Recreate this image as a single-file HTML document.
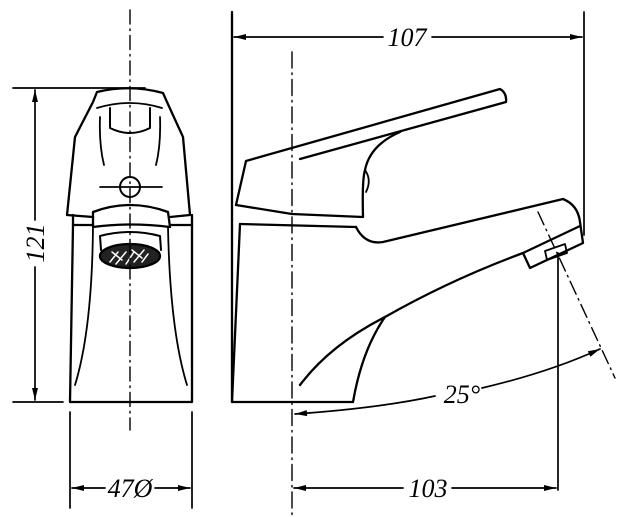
<!DOCTYPE html>
<html><head><meta charset="utf-8"><style>
html,body{margin:0;padding:0;background:#fff;}
svg{display:block;}
text{font-family:"Liberation Serif",serif;font-style:italic;font-size:26px;fill:#000;}
</style></head><body>
<svg width="629" height="517" viewBox="0 0 629 517" xmlns="http://www.w3.org/2000/svg">
<defs>
<marker id="a" viewBox="0 0 12 6" refX="12" refY="3" markerWidth="13" markerHeight="6" orient="auto-start-reverse" markerUnits="userSpaceOnUse"><path d="M0,0 L12,3 L0,6 Z" fill="#000"/></marker>
</defs>
<g fill="none" stroke="#000" stroke-width="2.3" stroke-linejoin="round" stroke-linecap="round">
<!-- LEFT VIEW -->
<line x1="13" y1="88" x2="145" y2="88" stroke-width="1.7"/>
<line x1="13" y1="402" x2="63" y2="402" stroke-width="1.7"/>
<line x1="35" y1="90" x2="35" y2="220" stroke-width="1.7" marker-start="url(#a)"/>
<line x1="35" y1="267" x2="35" y2="400" stroke-width="1.7" marker-end="url(#a)"/>
<!-- handle -->
<path d="M67,215 L75,137 L93,102 L97,92 Q130,84 163,93 L167,102 L183,137 L190,215 L170,217 M93,217 L67,215"/>
<path d="M97,108 Q130,98 162,108" stroke-width="1.8"/>
<path d="M100,117 Q99,145 104,165" stroke-width="1.8"/>
<path d="M160,117 Q161,145 156,165" stroke-width="1.8"/>
<path d="M110,108 L110,128 Q130,138 150,128 L150,108" stroke-width="2"/>
<circle cx="130" cy="187" r="10" stroke-width="2"/>
<line x1="100" y1="187" x2="162" y2="187" stroke-width="1.7"/>
<!-- lower piece -->
<path d="M93,227 L93,212 Q130,198 168,212 L170,227 Q130,222 93,227 Z"/>
<path d="M101,250 L100,236 Q130,228 160,236 L161,250" stroke-width="2"/>
<ellipse cx="130" cy="256" rx="30" ry="12" fill="#222"/>
<path d="M110,262 l8,-10 M116,264 l10,-12 M126,264 l8,-12 M134,262 l10,-12 M142,262 l6,-8 M112,252 l10,8 M132,250 l10,8" stroke="#fff" stroke-width="1.5"/>
<!-- body -->
<path d="M73,215 L73,225 M192,215 L192,225" />
<line x1="73" y1="225" x2="93" y2="225"/>
<line x1="170" y1="225" x2="192" y2="225"/>
<path d="M73,225 L70,402 L192,402 L192,225"/>
<path d="M93,227 Q92,330 75,385" stroke-width="1.8"/>
<path d="M168,227 Q170,330 187,385" stroke-width="1.8"/>
<line x1="70" y1="412" x2="70" y2="508" stroke-width="1.7"/>
<line x1="192" y1="412" x2="192" y2="508" stroke-width="1.7"/>
<line x1="130" y1="10" x2="130" y2="430" stroke-width="1.4" stroke-dasharray="14,5,1.5,5"/>
<line x1="72" y1="488" x2="105" y2="488" stroke-width="1.7" marker-start="url(#a)"/>
<line x1="155" y1="488" x2="190" y2="488" stroke-width="1.7" marker-end="url(#a)"/>

<!-- RIGHT VIEW -->
<line x1="232" y1="12" x2="232" y2="402"/>
<line x1="584" y1="12" x2="584" y2="235" stroke-width="1.7"/>
<line x1="234" y1="37" x2="383" y2="37" stroke-width="1.7" marker-start="url(#a)"/>
<line x1="432" y1="37" x2="582" y2="37" stroke-width="1.7" marker-end="url(#a)"/>
<!-- body -->
<path d="M240,224 L232,402 L353,402 Q362,350 385,317"/>
<line x1="240" y1="224" x2="356" y2="227"/>
<!-- handle -->
<path d="M236,205 L246,161 L500,89 Q507,93 506,102 L300,159"/>
<path d="M236,205 L292,214 L363,217 Q362,180 365,170 Q370,145 400,132"/>
<path d="M365,170 Q372,180 366,192" stroke-width="1.8"/>
<!-- spout -->
<path d="M356,227 Q365,245 383,242 L563,199 Q578,205 580,222 L583,243 L530,268 L523,253 L580,226"/>
<path d="M545,251 L565,244 L567,253 L547,260 Z" stroke-width="1.8"/>
<path d="M523,253 Q450,280 385,317 Q330,345 300,385"/>
<line x1="558" y1="253" x2="558" y2="490" stroke-width="1.7"/>
<line x1="538" y1="212" x2="615" y2="378" stroke-width="1.4" stroke-dasharray="14,5,1.5,5"/>
<line x1="292" y1="52" x2="292" y2="517" stroke-width="1.4" stroke-dasharray="16,5,1.5,5"/>
<path d="M295,414 Q380,408 435,396" stroke-width="1.7" marker-start="url(#a)"/>
<path d="M482,388 Q550,372 600,349" stroke-width="1.7" marker-end="url(#a)"/>
<line x1="294" y1="488" x2="403" y2="488" stroke-width="1.7" marker-start="url(#a)"/>
<line x1="452" y1="488" x2="556" y2="488" stroke-width="1.7" marker-end="url(#a)"/>
</g>
<text x="407" y="46" text-anchor="middle">107</text>
<text x="428" y="497" text-anchor="middle">103</text>
<text x="130" y="497" text-anchor="middle">47Ø</text>
<text x="462" y="403" text-anchor="middle">25°</text>
<text transform="translate(44,243) rotate(-90)" text-anchor="middle">121</text>
</svg>
</body></html>
